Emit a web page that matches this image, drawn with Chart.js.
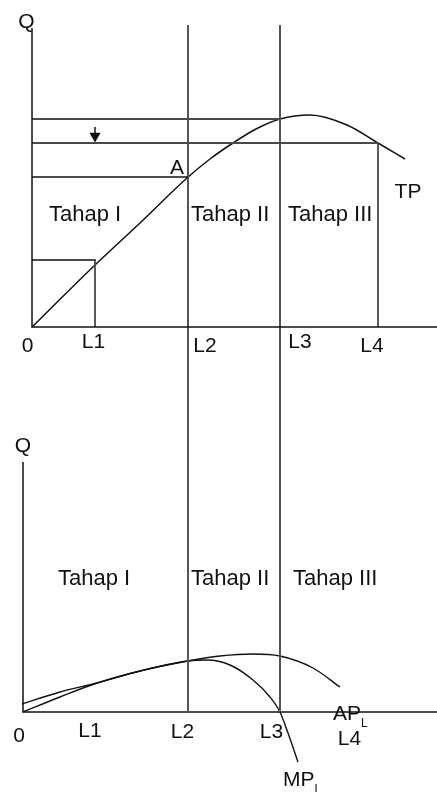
<!DOCTYPE html>
<html>
<head>
<meta charset="utf-8">
<script src="https://cdn.jsdelivr.net/npm/chart.js@4"></script>
<style>
  html, body { margin: 0; padding: 0; background: #fff; }
  #wrap { width: 437px; height: 792px; }
</style>
</head>
<body>
<div id="wrap"><canvas id="prodChart" width="437" height="792"></canvas></div>
<script>
// Labour input marks (top panel / bottom panel scale)
const labourLabels = ["0", "L1", "L2", "L3", "L4"];
const labourTop = [0, 6.3, 15.6, 24.8, 34.6];
const labourBottom = [0, 6.7, 16.5, 25.7];
const stageLabels = ["Tahap I", "Tahap II", "Tahap III"];

// Total product curve
const tpL = [0, 6.3, 10.8, 15.5, 17.8, 20.1, 22.4, 24.8, 27.8, 31.5, 34.6, 37.3];
const tpQ = [0, 6.2, 10.4, 14.9, 16.8, 18.4, 19.8, 20.8, 21.2, 20.2, 18.4, 16.8];

// Q levels marked on the top panel: at L1 (box), L2 (point A), L4 and L3
const guideQ = [6.7, 15.0, 18.4, 20.8];

// Average and marginal product curves
const apL = [-0.1, 3.7, 7.4, 11.7, 16.5, 19.7, 23.0, 25.7, 29.0, 31.7];
const apQ = [0.8, 2.0, 2.9, 4.1, 5.1, 5.6, 5.8, 5.6, 4.4, 2.5];
const mpL = [0, 3.7, 7.4, 11.7, 16.5, 18.4, 20.7, 23.0, 24.7, 25.7, 26.5, 27.5];
const mpQ = [0, 1.5, 2.9, 4.1, 5.1, 5.2, 4.7, 3.2, 1.5, 0, -2.1, -5.0];

// layout (scale units, 10px each)
const TOP = { xMin: -3.2, xMax: 40.5, yMin: -46.5, yMax: 32.7, axisTop: 29.9, lineTop: 30.2 };
const BOT = { xMin: -2.3, xMax: 41.4, yMin: -8.0, yMax: 71.2, axisTop: 25.0, lineTop: 38.5 };

const FONT = '"Liberation Sans", Arial, sans-serif';
const INK = "#111";
const GUIDE = "#4a4a4a";

function pts(xs, ys) {
  return xs.map((x, i) => ({ x: x, y: ys[i] }));
}

function seg(data, panel, color, width, extra) {
  const ds = {
    data: data,
    showLine: true,
    borderColor: color,
    borderWidth: width,
    pointRadius: 0,
    pointHoverRadius: 0,
    fill: false,
    tension: 0,
    xAxisID: panel === "top" ? "x" : "xb",
    yAxisID: panel === "top" ? "y" : "yb",
  };
  return Object.assign(ds, extra || {});
}

const datasets = [];

// Top panel axes
datasets.push(seg([{ x: 0, y: TOP.axisTop }, { x: 0, y: 0 }, { x: TOP.xMax, y: 0 }], "top", INK, 1.5));

// Guide lines on the top panel
datasets.push(seg([{ x: 0, y: guideQ[3] }, { x: labourTop[3], y: guideQ[3] }], "top", GUIDE, 1.8));
datasets.push(seg([{ x: 0, y: guideQ[2] }, { x: labourTop[4], y: guideQ[2] }, { x: labourTop[4], y: 0 }], "top", GUIDE, 1.8));
datasets.push(seg([{ x: 0, y: guideQ[1] }, { x: labourTop[2], y: guideQ[1] }], "top", INK, 1.5));
datasets.push(seg([{ x: 0, y: guideQ[0] }, { x: labourTop[1], y: guideQ[0] }, { x: labourTop[1], y: 0 }], "top", GUIDE, 1.8));

// Stage borders L2 and L3, running through both panels
[2, 3].forEach(i => {
  datasets.push(seg([{ x: labourTop[i], y: TOP.lineTop }, { x: labourTop[i], y: 0 }], "top", "#555", 2));
  datasets.push(seg([{ x: labourBottom[i], y: BOT.lineTop }, { x: labourBottom[i], y: 0 }], "bottom", "#555", 2));
});

// Small down arrow between the two upper Q levels
datasets.push(seg([{ x: labourTop[1], y: 20.0 }, { x: labourTop[1], y: guideQ[2] + 0.2 }], "top", INK, 1.5));
datasets.push({
  data: [{ x: labourTop[1], y: 19.1 }],
  showLine: false,
  pointStyle: "triangle",
  rotation: 180,
  pointRadius: 6.5,
  pointHoverRadius: 6.5,
  pointBackgroundColor: INK,
  pointBorderColor: INK,
  pointBorderWidth: 0,
  xAxisID: "x",
  yAxisID: "y",
});

// TP curve
datasets.push(seg(pts(tpL, tpQ), "top", INK, 1.5, { cubicInterpolationMode: "monotone" }));

// Bottom panel axes
datasets.push(seg([{ x: 0, y: BOT.axisTop }, { x: 0, y: 0 }, { x: BOT.xMax, y: 0 }], "bottom", INK, 1.5));

// AP and MP curves
datasets.push(seg(pts(apL, apQ), "bottom", INK, 1.4, { cubicInterpolationMode: "monotone" }));
datasets.push(seg(pts(mpL, mpQ), "bottom", INK, 1.4, { cubicInterpolationMode: "monotone" }));

// Text placements: [text, panel, x, y, size, align, subscript]
const texts = [
  ["Q", "top", -0.55, 29.9, 21, "center"],
  ["A", "top", 14.5, 15.3, 21, "center"],
  ["TP", "top", 37.6, 12.9, 21, "center"],
  [stageLabels[0], "top", 1.7, 10.6, 22, "left"],
  [stageLabels[1], "top", 15.9, 10.6, 22, "left"],
  [stageLabels[2], "top", 25.6, 10.6, 22, "left"],
  [labourLabels[0], "top", -0.45, -2.5, 21, "center"],
  [labourLabels[1], "top", 6.15, -2.1, 21, "center"],
  [labourLabels[2], "top", 17.3, -2.5, 21, "center"],
  [labourLabels[3], "top", 26.8, -2.1, 21, "center"],
  [labourLabels[4], "top", 34.0, -2.5, 21, "center"],

  ["Q", "bottom", 0, 26.0, 21, "center"],
  [stageLabels[0], "bottom", 3.5, 12.7, 22, "left"],
  [stageLabels[1], "bottom", 16.8, 12.7, 22, "left"],
  [stageLabels[2], "bottom", 27.0, 12.7, 22, "left"],
  [labourLabels[0], "bottom", -0.4, -3.0, 21, "center"],
  [labourLabels[1], "bottom", 6.7, -2.5, 21, "center"],
  [labourLabels[2], "bottom", 15.95, -2.6, 21, "center"],
  [labourLabels[3], "bottom", 24.85, -2.6, 21, "center"],
  [labourLabels[4], "bottom", 32.65, -3.3, 21, "center"],
  ["AP", "bottom", 31.0, -0.8, 21, "left", "L"],
  ["MP", "bottom", 26.0, -7.4, 21, "left", "L"],
];

const textPlugin = {
  id: "diagramText",
  afterDatasetsDraw(chart) {
    const ctx = chart.ctx;
    const s = chart.scales;
    ctx.save();
    ctx.fillStyle = INK;
    ctx.textBaseline = "alphabetic";
    texts.forEach(t => {
      const xs = t[1] === "top" ? s.x : s.xb;
      const ys = t[1] === "top" ? s.y : s.yb;
      const px = xs.getPixelForValue(t[2]);
      const py = ys.getPixelForValue(t[3]);
      ctx.font = t[4] + "px " + FONT;
      ctx.textAlign = t[5];
      ctx.fillText(t[0], px, py);
      if (t[6]) {
        const w = ctx.measureText(t[0]).width;
        ctx.font = "12px " + FONT;
        ctx.textAlign = "left";
        ctx.fillText(t[6], px + w, py + 7);
      }
    });
    ctx.restore();
  },
};

const ctx = document.getElementById("prodChart").getContext("2d");
const chart = new Chart(ctx, {
  type: "scatter",
  data: { datasets: datasets },
  options: {
    responsive: false,
    animation: false,
    devicePixelRatio: 1,
    layout: { padding: 0, autoPadding: false },
    plugins: {
      legend: { display: false },
      tooltip: { enabled: false },
    },
    scales: {
      x: { type: "linear", display: false, min: TOP.xMin, max: TOP.xMax },
      y: { type: "linear", display: false, min: TOP.yMin, max: TOP.yMax },
      xb: { type: "linear", axis: "x", display: false, min: BOT.xMin, max: BOT.xMax },
      yb: { type: "linear", axis: "y", display: false, min: BOT.yMin, max: BOT.yMax },
    },
  },
  plugins: [textPlugin],
});
</script>
</body>
</html>
